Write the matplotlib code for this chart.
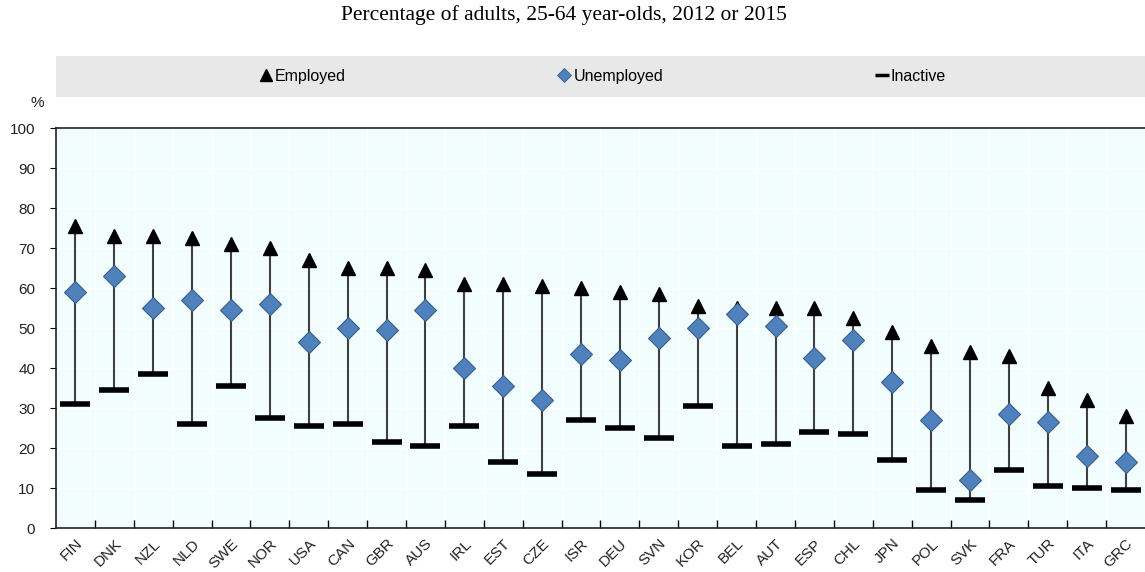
import matplotlib.pyplot as plt
from matplotlib.lines import Line2D
import numpy as np

plt.rcParams['font.family'] = ['Liberation Sans', 'DejaVu Sans']

countries = ['FIN', 'DNK', 'NZL', 'NLD', 'SWE', 'NOR', 'USA', 'CAN', 'GBR', 'AUS',
             'IRL', 'EST', 'CZE', 'ISR', 'DEU', 'SVN', 'KOR', 'BEL', 'AUT', 'ESP',
             'CHL', 'JPN', 'POL', 'SVK', 'FRA', 'TUR', 'ITA', 'GRC']
employed = [75.5, 73, 73, 72.5, 71, 70, 67, 65, 65, 64.5,
            61, 61, 60.5, 60, 59, 58.5, 55.5, 55, 55, 55,
            52.5, 49, 45.5, 44, 43, 35, 32, 28]
unemployed = [59, 63, 55, 57, 54.5, 56, 46.5, 50, 49.5, 54.5,
              40, 35.5, 32, 43.5, 42, 47.5, 50, 53.5, 50.5, 42.5,
              47, 36.5, 27, 12, 28.5, 26.5, 18, 16.5]
inactive = [31, 34.5, 38.5, 26, 35.5, 27.5, 25.5, 26, 21.5, 20.5,
            25.5, 16.5, 13.5, 27, 25, 22.5, 30.5, 20.5, 21, 24,
            23.5, 17, 9.5, 7, 14.5, 10.5, 10, 9.5]

x = np.arange(len(countries))
blue = '#4f81bd'

fig = plt.figure(figsize=(11.45, 5.72), dpi=100)
ax = fig.add_axes([56 / 1145, 1 - 528 / 572, 1 - 56 / 1145, 400 / 572])
ax.set_facecolor('#f2fefe')

lo = np.minimum(inactive, employed)
hi = np.maximum(inactive, employed)
ax.vlines(x, lo, hi, color='#404040', lw=1.5, zorder=2)
ax.plot(x, inactive, ls='none', marker='_', ms=22, mew=4, color='black', zorder=3)
ax.plot(x, employed, ls='none', marker='^', ms=10, color='black', zorder=4)
ax.plot(x, unemployed, ls='none', marker='D', ms=11, mfc=blue, mec='#3a5f8a',
        mew=0.8, zorder=5)

ax.set_xlim(-0.5, len(countries) - 0.5)
ax.set_ylim(0, 100)
ax.set_yticks(range(0, 101, 10))
ax.set_xticks(x)
ax.set_xticklabels(countries, rotation=45, ha='right', va='top',
                   rotation_mode='anchor', fontsize=11, color='#222222')
ax.tick_params(axis='x', length=0, pad=6)
ax.set_xticks(np.arange(0.5, len(countries) - 0.5, 1), minor=True)
ax.tick_params(axis='x', which='minor', direction='in', length=6, width=1)
ax.tick_params(axis='y', length=4, pad=11, labelsize=11, labelcolor='#222222')
ax.grid(True, which='major', axis='y', color='white', lw=1)
ax.grid(True, which='minor', axis='x', color='white', lw=1)
ax.set_axisbelow(True)
for s in ['left', 'bottom', 'top']:
    ax.spines[s].set_color('#222222')
    ax.spines[s].set_linewidth(1.2)
ax.spines['right'].set_visible(False)

# legend band
band = fig.add_axes([56 / 1145, 1 - 97 / 572, 1 - 56 / 1145, 41 / 572])
band.set_facecolor('#e8e8e8')
band.set_xticks([])
band.set_yticks([])
for s in band.spines.values():
    s.set_visible(False)
handles = [
    Line2D([], [], ls='none', marker='^', ms=8, color='black'),
    Line2D([], [], ls='none', marker='D', ms=7, mfc=blue, mec='#3a5f8a', mew=0.6),
    Line2D([], [], ls='none', marker='_', ms=10, mew=2.5, color='black'),
]
band.legend(handles, ['Employed', 'Unemployed', 'Inactive'], loc='center',
            bbox_to_anchor=(0.502, 0.5), ncol=3, frameon=False, fontsize=11.5,
            handlelength=0.8, handletextpad=0.15, columnspacing=13.3)

fig.text(37 / 1145, 1 - 103 / 572, '%', fontsize=11, ha='center', va='center',
         color='#222222')
fig.text(564 / 1145, 1 - 15 / 572, 'Percentage of adults, 25-64 year-olds, 2012 or 2015',
         fontsize=15.5, ha='center', va='center', family='Liberation Serif')

fig.savefig('out.png', dpi=100)
